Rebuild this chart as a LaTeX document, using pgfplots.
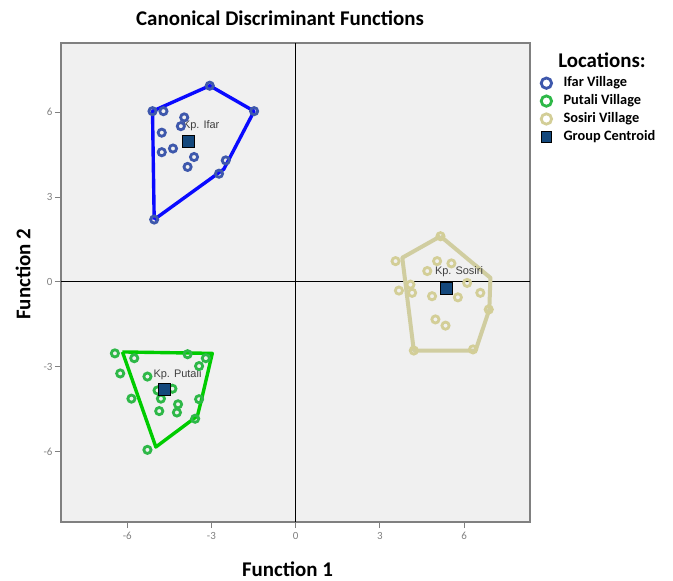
\documentclass[border=0pt]{standalone}
\usepackage{pgfplots}
\pgfplotsset{compat=1.18}
\usepackage{fontspec}
\setmainfont{Carlito}
\newfontfamily\arialfont{Liberation Sans}

\definecolor{ifarc}{RGB}{62,88,172}
\definecolor{putalic}{RGB}{46,184,72}
\definecolor{sosiric}{RGB}{211,206,151}
\definecolor{centc}{RGB}{20,72,124}
\definecolor{hullblue}{RGB}{10,10,255}
\definecolor{hullgreen}{RGB}{0,204,0}
\definecolor{hulltan}{RGB}{208,205,160}
\definecolor{panel}{RGB}{240,240,240}

\begin{document}
\begin{tikzpicture}
\path[use as bounding box] (-61bp,-59bp) rectangle (612bp,522bp);
\begin{axis}[
    scale only axis,
    width=469bp, height=479bp,
    xmin=-8.36, xmax=8.35,
    ymin=-8.49, ymax=8.44,
    xtick={-6,-3,0,3,6},
    ytick={-6,-3,0,3,6},
    tick pos=left,
    tick align=outside,
    major tick length=6bp,
    every tick/.style={gray, line width=0.8bp},
    axis line style={draw=gray, line width=1.6bp},
    axis background/.style={fill=panel},
    /pgf/number format/assume math mode=true,
    ticklabel style={font=\fontsize{11}{12}\selectfont, text=gray},
    xticklabel style={yshift=-1bp},
    yticklabel style={xshift=1bp},
    xlabel={\textbf{Function 1}},
    ylabel={\textbf{Function 2}},
    label style={font=\fontsize{21}{24}\selectfont},
    xlabel style={at={([xshift=-8bp, yshift=-47bp]rel axis cs:0.5,0)}, anchor=center},
    ylabel style={at={([xshift=-38bp]rel axis cs:0,0.517)}, anchor=center},
    legend style={at={(rel axis cs:1,1)}, anchor=north west, xshift=11bp, yshift=-32.5bp,
        draw=none, fill=none, font=\bfseries\fontsize{14.4}{16}\selectfont,
        row sep=2.9bp, inner sep=0bp,
        nodes={inner sep=1bp, text height=10bp, text depth=3bp},
        /tikz/every odd column/.append style={column sep=11bp}},
    legend cell align=left,
    legend image code/.code={\draw[#1, mark size=5.2bp] plot coordinates {(0bp,0bp)};},
    clip=false,
]
% reference lines
\addplot[black, line width=0.8bp, forget plot] coordinates {(0,-8.49) (0,8.44)};
\addplot[black, line width=0.8bp, forget plot] coordinates {(-8.36,0) (8.35,0)};

% territories drawn round each group
\addplot[hullblue, line width=3.4bp, line join=round, forget plot] coordinates {
    (-5.04,2.20) (-5.10,6.03) (-3.06,6.93) (-1.48,6.03) (-2.56,3.98) (-5.04,2.20)};
\addplot[hullgreen, line width=3.4bp, line join=round, forget plot] coordinates {
    (-6.17,-2.48) (-2.97,-2.53) (-3.35,-4.15) (-3.50,-4.74) (-4.98,-5.84) (-6.17,-2.48)};
\addplot[hulltan, line width=4bp, line join=round, forget plot] coordinates {
    (5.16,1.61) (6.94,0.14) (6.90,-0.98) (6.41,-2.43) (4.21,-2.43) (3.80,0.85) (5.16,1.61)};

% group members
\addplot[only marks, mark=o, mark size=3.6bp, line width=2.8bp, ifarc] coordinates {
    (-5.10,6.03) (-4.71,6.03) (-3.06,6.93) (-1.48,6.03) (-3.97,5.81) (-4.09,5.50)
    (-4.77,5.27) (-4.77,4.58) (-4.37,4.71) (-3.62,4.41) (-3.85,4.06) (-2.49,4.29)
    (-2.73,3.82) (-5.04,2.20)};
\addlegendentry{Ifar Village}
\addplot[only marks, mark=o, mark size=3.6bp, line width=2.8bp, putalic] coordinates {
    (-6.44,-2.53) (-5.75,-2.70) (-6.25,-3.24) (-5.28,-3.35) (-5.85,-4.13) (-3.85,-2.56)
    (-3.20,-2.70) (-3.44,-2.98) (-4.92,-3.84) (-4.39,-3.78) (-4.80,-4.13) (-4.19,-4.33)
    (-4.86,-4.57) (-4.23,-4.62) (-3.44,-4.15) (-3.58,-4.84) (-5.28,-5.94)};
\addlegendentry{Putali Village}
\addplot[only marks, mark=o, mark size=3.6bp, line width=2.8bp, sosiric] coordinates {
    (5.16,1.61) (3.56,0.73) (5.04,0.73) (5.55,0.65) (4.69,0.38) (4.09,-0.10)
    (3.68,-0.31) (4.15,-0.39) (4.86,-0.51) (5.78,-0.55) (6.11,-0.04) (6.58,-0.39)
    (6.88,-0.98) (4.98,-1.33) (5.34,-1.55) (4.21,-2.43) (6.32,-2.39)};
\addlegendentry{Sosiri Village}
\addplot[only marks, mark=square*, mark size=6bp, line width=0.6bp,
    mark options={draw=black, fill=centc}] coordinates {
    (-3.83,4.96) (-4.69,-3.80) (5.36,-0.24)};
\addlegendentry{Group Centroid}

% centroid names
\node[anchor=west, inner sep=0bp, font=\arialfont\fontsize{11}{12}\selectfont, text=black!75]
    at (axis cs:-4.02,5.52) {Kp. Ifar};
\node[anchor=west, inner sep=0bp, font=\arialfont\fontsize{11}{12}\selectfont, text=black!75]
    at (axis cs:-5.07,-3.30) {Kp. Putali};
\node[anchor=west, inner sep=0bp, font=\arialfont\fontsize{11}{12}\selectfont, text=black!75]
    at (axis cs:4.96,0.36) {Kp. Sosiri};

% title and legend heading
\node[font=\bfseries\fontsize{21}{24}\selectfont, anchor=center]
    at ([yshift=25bp, xshift=-15.5bp]rel axis cs:0.5,1) {Canonical Discriminant Functions};
\node[font=\bfseries\fontsize{21}{24}\selectfont, anchor=center]
    at ([xshift=72bp, yshift=-17.6bp]rel axis cs:1,1) {Locations:};
\end{axis}
\end{tikzpicture}
\end{document}
